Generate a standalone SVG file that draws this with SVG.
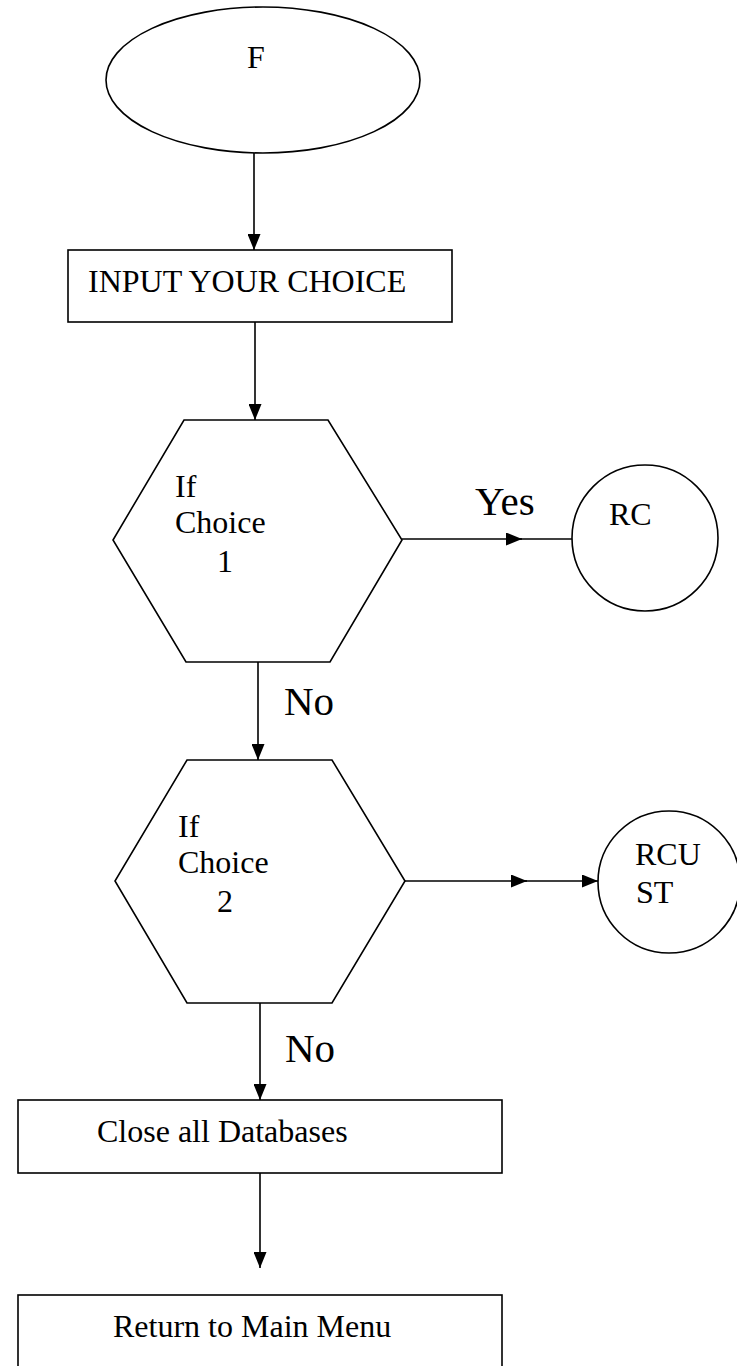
<svg xmlns="http://www.w3.org/2000/svg" width="737" height="1366" viewBox="0 0 737 1366">
<defs>
<style>
.s{fill:#fff;stroke:#000;stroke-width:1.6}
.l{fill:none;stroke:#000;stroke-width:1.6}
.t{font-family:"Liberation Serif","Times New Roman",serif;font-size:32px;fill:#000}
.b{font-family:"Liberation Serif","Times New Roman",serif;font-size:41px;fill:#000}
</style>
<marker id="ah" markerWidth="16" markerHeight="13" refX="16" refY="6.5" orient="auto" markerUnits="userSpaceOnUse">
<path d="M0,0 L16,6.5 L0,13 Z" fill="#000"/>
</marker>
</defs>
<rect width="737" height="1366" fill="#fff"/>
<g id="connectors">
<line class="l" x1="254" y1="153" x2="254" y2="250" marker-end="url(#ah)"/>
<line class="l" x1="255" y1="322" x2="255" y2="420" marker-end="url(#ah)"/>
<line class="l" x1="402" y1="539" x2="522" y2="539" marker-end="url(#ah)"/>
<line class="l" x1="520" y1="539" x2="572" y2="539"/>
<line class="l" x1="258" y1="662" x2="258" y2="760" marker-end="url(#ah)"/>
<line class="l" x1="405" y1="881" x2="527" y2="881" marker-end="url(#ah)"/>
<line class="l" x1="525" y1="881" x2="598" y2="881" marker-end="url(#ah)"/>
<line class="l" x1="260" y1="1003" x2="260" y2="1100" marker-end="url(#ah)"/>
<line class="l" x1="260" y1="1173" x2="260" y2="1268" marker-end="url(#ah)"/>
<text class="b" x="475" y="515">Yes</text>
<text class="b" x="284" y="715">No</text>
<text class="b" x="285" y="1062">No</text>
</g>
<g id="start">
<ellipse class="s" cx="263" cy="80" rx="157" ry="73"/>
<text class="t" x="256" y="68" text-anchor="middle">F</text>
</g>
<g id="input">
<rect class="s" x="68" y="250" width="384" height="72"/>
<text class="t" x="88" y="292">INPUT YOUR CHOICE</text>
</g>
<g id="choice1">
<polygon class="s" points="184,420 328,420 402,540 330,662 186,662 113,540"/>
<text class="t" x="175" y="497">If</text>
<text class="t" x="175" y="533">Choice</text>
<text class="t" x="217" y="572">1</text>
</g>
<g id="rc">
<circle class="s" cx="645" cy="538" r="73"/>
<text class="t" x="609" y="525">RC</text>
</g>
<g id="choice2">
<polygon class="s" points="187,760 332,760 405,881 332,1003 187,1003 115,881"/>
<text class="t" x="178" y="837">If</text>
<text class="t" x="178" y="873">Choice</text>
<text class="t" x="217" y="912">2</text>
</g>
<g id="rcust">
<circle class="s" cx="669" cy="882" r="71"/>
<text class="t" x="635" y="865">RCU</text>
<text class="t" x="636" y="903">ST</text>
</g>
<g id="close">
<rect class="s" x="18" y="1100" width="484" height="73"/>
<text class="t" x="97" y="1142">Close all Databases</text>
</g>
<g id="return">
<rect class="s" x="18" y="1295" width="484" height="80"/>
<text class="t" x="113" y="1337">Return to Main Menu</text>
</g>
</svg>
